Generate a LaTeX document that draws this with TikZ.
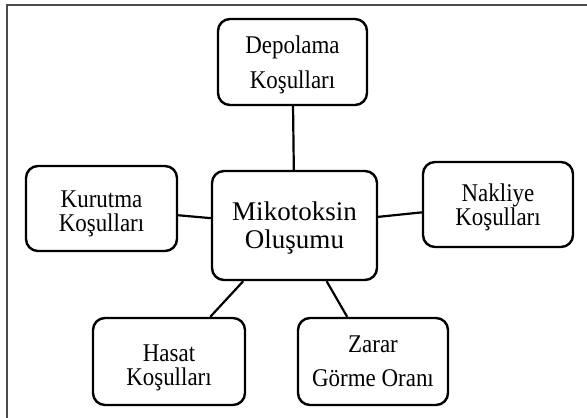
\documentclass[tikz,border=0pt]{standalone}
\usepackage{fontspec}
\setmainfont{Liberation Serif}
\newfontfamily\tallserif[FakeStretch=0.9]{Liberation Serif}
\newcommand\mystrut[1]{\rule{0pt}{#1pt}}
\begin{document}
\begin{tikzpicture}[x=1pt,y=-1pt,
  box/.style={draw=black, line width=2.4pt, rounded corners=12pt, align=center,
    inner sep=0pt},
  link/.style={draw=black, line width=2.2pt}]
\useasboundingbox (0,0) rectangle (587,418);
\draw[line width=1.6pt, draw=black!70] (7,418) -- (7,5) -- (587,5);
\node[box, minimum width=165pt, minimum height=109pt,
  font=\fontsize{27}{28}\selectfont] (cen) at (294.5,225.5) {\mystrut{24.4}Mikotoksin\\Oluşumu};
\node[box, minimum width=149pt, minimum height=86pt,
  font=\tallserif\fontsize{25.5}{35}\selectfont] (dep) at (292.5,62) {\mystrut{23.4}Depolama\\Koşulları};
\node[box, minimum width=151pt, minimum height=85pt,
  font=\tallserif\fontsize{25.5}{24}\selectfont] (kur) at (101.5,208.5) {\mystrut{27}Kurutma\\Koşulları};
\node[box, minimum width=150pt, minimum height=85pt,
  font=\tallserif\fontsize{25.5}{23}\selectfont] (nak) at (498,204.5) {\mystrut{23.4}Nakliye\\Koşulları};
\node[box, minimum width=152pt, minimum height=87pt,
  font=\tallserif\fontsize{25.5}{24}\selectfont] (has) at (169,361.5) {\mystrut{29}Hasat\\Koşulları};
\node[box, minimum width=150pt, minimum height=87pt,
  font=\tallserif\fontsize{25.5}{34}\selectfont] (zar) at (373,361.5) {Zarar\\Görme Oranı};
\draw[link] (dep) -- (cen);
\draw[link] (kur) -- (cen);
\draw[link] (nak) -- (cen);
\draw[link] (has) -- (cen);
\draw[link] (zar) -- (cen);
\end{tikzpicture}
\end{document}
